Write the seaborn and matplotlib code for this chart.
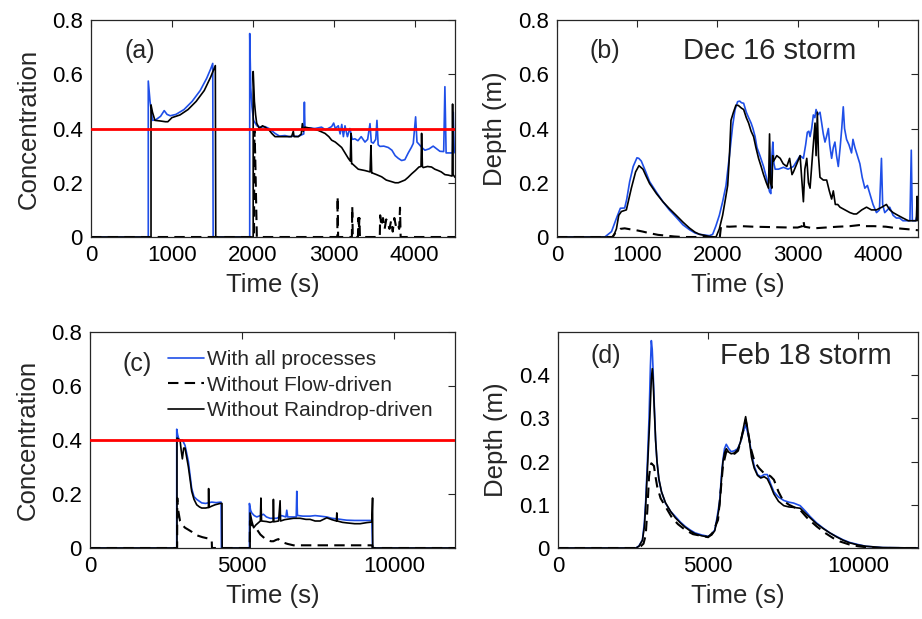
import numpy as np
import pandas as pd
import seaborn as sns
import matplotlib.pyplot as plt

sns.set_style('white')
plt.rcParams['font.family'] = ['Liberation Sans', 'DejaVu Sans']

#panel (a) Dec 16 storm, concentration
a_all_t = [0, 708, 708, 730, 760, 800, 860, 905, 940, 980, 1050, 1150, 1250, 1350, 1430, 1480, 1505, 1510,
           1962, 1962, 1975, 1990, 2010, 2050, 2100, 2151, 2200, 2275, 2330, 2398, 2450, 2500, 2563, 2630,
           2638, 2645, 2700, 2769, 2850, 2900, 2975, 3000, 3020, 3057, 3080, 3100, 3120, 3140, 3170, 3200,
           3230, 3263, 3300, 3340, 3387, 3420, 3449, 3465, 3490, 3520, 3535, 3550, 3572, 3620, 3675, 3720,
           3760, 3799, 3840, 3880, 3922, 3960, 3984, 4013, 4030, 4046, 4090, 4128, 4180, 4230, 4252, 4313,
           4360, 4375, 4390, 4449, 4470, 4478, 4490, 4500]
a_all_c = [0, 0, 0.575, 0.50, 0.43, 0.432, 0.445, 0.466, 0.452, 0.447, 0.452, 0.47, 0.50, 0.54, 0.585, 0.62, 0.64, 0,
           0, 0.75, 0.55, 0.48, 0.43, 0.41, 0.405, 0.407, 0.40, 0.382, 0.372, 0.374, 0.37, 0.372, 0.371, 0.38,
           0.497, 0.40, 0.402, 0.40, 0.405, 0.395, 0.407, 0.42, 0.40, 0.41, 0.38, 0.415, 0.37, 0.41, 0.37, 0.40,
           0.36, 0.362, 0.355, 0.37, 0.35, 0.36, 0.418, 0.35, 0.346, 0.36, 0.43, 0.34, 0.334, 0.335, 0.33, 0.32,
           0.30, 0.29, 0.282, 0.285, 0.31, 0.33, 0.345, 0.443, 0.35, 0.345, 0.33, 0.32, 0.325, 0.335, 0.33, 0.316,
           0.315, 0.554, 0.31, 0.31, 0.31, 0.46, 0.32, 0.31]
a_flow_t = [0, 2015, 2020, 2030, 2040, 2050, 3045, 3049, 3055, 3225, 3230, 3236, 3300, 3305, 3312, 3318, 3325,
            3570, 3575, 3590, 3610, 3630, 3650, 3670, 3690, 3710, 3730, 3750, 3770, 3790, 3810, 3820, 3828, 4500]
a_flow_c = [0, 0, 0.395, 0.30, 0.15, 0, 0, 0.149, 0, 0, 0.112, 0, 0, 0.07, 0.03, 0.07, 0,
            0, 0.08, 0.04, 0.07, 0.03, 0.065, 0.05, 0.03, 0.06, 0.02, 0.07, 0.04, 0.05, 0.03, 0.108, 0, 0]
a_rain_t = [0, 742, 742, 760, 790, 850, 920, 950, 1000, 1100, 1200, 1300, 1400, 1480, 1537, 1542,
            2005, 2005, 2020, 2035, 2048, 2080, 2120, 2151, 2200, 2234, 2275, 2340, 2398, 2480, 2501, 2510,
            2563, 2600, 2613, 2625, 2645, 2728, 2810, 2893, 2940, 2975, 3020, 3060, 3099, 3140, 3181, 3205,
            3214, 3222, 3230, 3304, 3387, 3450, 3461, 3470, 3478, 3530, 3593, 3650, 3717, 3760, 3799, 3840,
            3881, 3920, 3964, 4010, 4054, 4080, 4087, 4097, 4107, 4160, 4210, 4250, 4293, 4330, 4375, 4420,
            4457, 4465, 4470, 4476, 4500]
a_rain_c = [0, 0, 0.487, 0.46, 0.43, 0.428, 0.425, 0.425, 0.44, 0.45, 0.47, 0.50, 0.54, 0.59, 0.632, 0,
            0, 0.61, 0.50, 0.45, 0.42, 0.40, 0.41, 0.405, 0.395, 0.382, 0.37, 0.37, 0.37, 0.37, 0.39, 0.37,
            0.37, 0.38, 0.418, 0.39, 0.405, 0.40, 0.393, 0.382, 0.37, 0.357, 0.35, 0.34, 0.33, 0.31, 0.29, 0.28,
            0.382, 0.27, 0.27, 0.25, 0.245, 0.24, 0.337, 0.236, 0.236, 0.23, 0.222, 0.21, 0.204, 0.2, 0.2, 0.205,
            0.21, 0.22, 0.233, 0.245, 0.258, 0.26, 0.382, 0.26, 0.256, 0.26, 0.258, 0.25, 0.245, 0.24, 0.23, 0.228,
            0.225, 0.225, 0.49, 0.23, 0.22]

#panel (b) Dec 16 storm, depth
b_all_t = [0, 596, 680, 741, 790, 844, 870, 906, 950, 997, 1020, 1051, 1100, 1155, 1240, 1321, 1400, 1486, 1570,
           1652, 1720, 1776, 1900, 1941, 1980, 2024, 2065, 2107, 2150, 2190, 2220, 2252, 2278, 2300, 2327, 2360,
           2389, 2420, 2443, 2470, 2493, 2530, 2575, 2610, 2650, 2666, 2680, 2691, 2705, 2720, 2760, 2824, 2880,
           2948, 2990, 3031, 3072, 3100, 3121, 3140, 3155, 3175, 3196, 3215, 3230, 3250, 3279, 3300, 3320, 3341,
           3360, 3383, 3400, 3424, 3445, 3465, 3485, 3507, 3530, 3550, 3569, 3585, 3610, 3640, 3672, 3690, 3714,
           3745, 3776, 3805, 3838, 3870, 3900, 3940, 3983, 4020, 4045, 4060, 4086, 4120, 4148, 4190, 4231, 4270,
           4313, 4360, 4400, 4417, 4430, 4470, 4490, 4500]
b_all_d = [0, 0, 0.02, 0.069, 0.106, 0.107, 0.14, 0.204, 0.26, 0.292, 0.29, 0.28, 0.245, 0.204, 0.165, 0.13, 0.10,
           0.073, 0.045, 0.027, 0.015, 0.01, 0.005, 0.01, 0.04, 0.08, 0.13, 0.19, 0.30, 0.41, 0.47, 0.499, 0.501,
           0.495, 0.493, 0.46, 0.44, 0.42, 0.40, 0.37, 0.33, 0.30, 0.26, 0.22, 0.167, 0.16, 0.30, 0.35, 0.27, 0.25,
           0.25, 0.257, 0.25, 0.26, 0.28, 0.30, 0.29, 0.34, 0.386, 0.39, 0.37, 0.40, 0.45, 0.44, 0.47, 0.45, 0.46,
           0.42, 0.38, 0.35, 0.37, 0.40, 0.34, 0.29, 0.33, 0.35, 0.30, 0.26, 0.33, 0.40, 0.48, 0.40, 0.36, 0.34,
           0.31, 0.36, 0.33, 0.30, 0.27, 0.22, 0.18, 0.19, 0.16, 0.12, 0.09, 0.10, 0.29, 0.12, 0.09, 0.10, 0.11,
           0.08, 0.07, 0.07, 0.06, 0.06, 0.06, 0.32, 0.06, 0.06, 0.08, 0.07]
b_flow_t = [0, 690, 741, 790, 844, 920, 989, 1070, 1155, 1260, 1362, 1460, 1569, 2030, 2045, 2148, 2300, 2450,
            2600, 2750, 2900, 3000, 3060, 3072, 3085, 3200, 3350, 3500, 3650, 3800, 3850, 3950, 4100, 4250,
            4400, 4500]
b_flow_d = [0, 0, 0.02, 0.03, 0.032, 0.028, 0.025, 0.02, 0.014, 0.008, 0.005, 0.002, 0, 0, 0.04, 0.038, 0.04,
            0.038, 0.037, 0.036, 0.035, 0.035, 0.04, 0.06, 0.038, 0.032, 0.035, 0.038, 0.04, 0.045, 0.04, 0.04,
            0.038, 0.032, 0.028, 0.025]
b_rain_t = [0, 700, 741, 770, 803, 865, 927, 980, 1022, 1072, 1110, 1155, 1240, 1321, 1400, 1486, 1570, 1652,
            1720, 1776, 1900, 1983, 2024, 2065, 2100, 2128, 2150, 2169, 2200, 2231, 2261, 2300, 2327, 2360, 2389,
            2420, 2451, 2480, 2513, 2545, 2575, 2610, 2637, 2650, 2662, 2679, 2690, 2700, 2740, 2783, 2820, 2865,
            2900, 2930, 2948, 2990, 3031, 3050, 3072, 3090, 3114, 3135, 3155, 3185, 3217, 3230, 3246, 3260, 3279,
            3320, 3362, 3395, 3424, 3445, 3470, 3500, 3528, 3590, 3652, 3700, 3735, 3800, 3859, 3920, 3983, 4050,
            4107, 4150, 4190, 4250, 4313, 4380, 4438, 4480, 4490, 4500]
b_rain_d = [0, 0, 0.03, 0.08, 0.094, 0.10, 0.18, 0.24, 0.263, 0.25, 0.225, 0.197, 0.16, 0.13, 0.105, 0.08, 0.055,
            0.033, 0.018, 0.01, 0.002, 0, 0.03, 0.08, 0.14, 0.19, 0.30, 0.43, 0.46, 0.486, 0.485, 0.475, 0.47,
            0.44, 0.42, 0.39, 0.37, 0.33, 0.29, 0.26, 0.23, 0.20, 0.18, 0.38, 0.20, 0.18, 0.30, 0.28, 0.30, 0.29,
            0.27, 0.26, 0.29, 0.23, 0.24, 0.27, 0.30, 0.22, 0.13, 0.25, 0.29, 0.20, 0.18, 0.30, 0.42, 0.30, 0.46,
            0.30, 0.22, 0.21, 0.21, 0.17, 0.14, 0.17, 0.12, 0.12, 0.11, 0.10, 0.09, 0.085, 0.085, 0.10, 0.11, 0.10,
            0.10, 0.11, 0.12, 0.10, 0.09, 0.08, 0.07, 0.06, 0.06, 0.06, 0.15, 0.06]

#panel (c) Feb 18 storm, concentration
c_all_t = [0, 2851, 2851, 2880, 2928, 3037, 3125, 3235, 3344, 3420, 3509, 3673, 3800, 4002, 4150, 4309, 4320,
           5241, 5241, 5280, 5318, 5400, 5482, 5600, 5702, 5800, 5921, 6030, 6140, 6300, 6440, 6469, 6500, 6689,
           6780, 6798, 6820, 6853, 7000, 7237, 7400, 7566, 7785, 7950, 8114, 8300, 8443, 8700, 8882, 9100, 9265,
           9290, 12000]
c_all_c = [0, 0, 0.44, 0.42, 0.40, 0.40, 0.38, 0.32, 0.22, 0.19, 0.18, 0.167, 0.165, 0.17, 0.168, 0.17, 0,
           0, 0.165, 0.14, 0.13, 0.12, 0.115, 0.12, 0.125, 0.115, 0.11, 0.11, 0.11, 0.12, 0.115, 0.14, 0.115, 0.115,
           0.115, 0.21, 0.12, 0.12, 0.118, 0.118, 0.12, 0.118, 0.115, 0.11, 0.108, 0.105, 0.103, 0.102, 0.102,
           0.102, 0.102, 0, 0]
c_flow_t = [0, 2865, 2870, 2900, 2960, 3040, 3125, 3230, 3344, 3450, 3564, 3700, 3893, 4002, 4010, 5250, 5260,
            5320, 5480, 5600, 5700, 5812, 5950, 6030, 6120, 6195, 6260, 6360, 6500, 6689, 8000, 9280, 9290, 12000]
c_flow_c = [0, 0, 0.185, 0.14, 0.10, 0.085, 0.075, 0.068, 0.06, 0.05, 0.045, 0.04, 0.035, 0.03, 0, 0, 0.10,
            0.085, 0.07, 0.05, 0.04, 0.03, 0.025, 0.025, 0.03, 0.033, 0.025, 0.02, 0.015, 0.01, 0.01, 0.01, 0, 0]
c_rain_t = [0, 2860, 2860, 2960, 3000, 3037, 3080, 3125, 3235, 3344, 3420, 3509, 3600, 3673, 3800, 3893, 3900,
            3910, 4000, 4112, 4276, 4340, 4345, 5263, 5263, 5320, 5380, 5450, 5500, 5600, 5619, 5640, 5800, 5921,
            6020, 6030, 6045, 6200, 6250, 6265, 6400, 6689, 6908, 7100, 7237, 7400, 7566, 7785, 7950, 8100, 8114,
            8130, 8300, 8443, 8700, 8882, 9100, 9265, 9290, 9295, 12000]
c_rain_c = [0, 0, 0.407, 0.40, 0.36, 0.33, 0.37, 0.37, 0.30, 0.21, 0.18, 0.16, 0.152, 0.148, 0.148, 0.15, 0.22,
            0.15, 0.155, 0.16, 0.165, 0.165, 0, 0, 0.13, 0.10, 0.075, 0.085, 0.09, 0.10, 0.185, 0.10, 0.098, 0.095,
            0.098, 0.18, 0.097, 0.10, 0.175, 0.10, 0.105, 0.11, 0.11, 0.106, 0.106, 0.10, 0.10, 0.112, 0.105, 0.10,
            0.13, 0.10, 0.095, 0.093, 0.09, 0.09, 0.094, 0.096, 0.185, 0, 0]

#panel (d) Feb 18 storm, depth
d_all_t = [0, 2596, 2700, 2815, 2880, 2924, 2980, 3034, 3080, 3111, 3140, 3165, 3210, 3253, 3300, 3362, 3450, 3581,
           3750, 3910, 4080, 4239, 4400, 4567, 4800, 5005, 5120, 5225, 5300, 5389, 5450, 5498, 5550, 5608, 5690,
           5772, 5880, 5991, 6080, 6156, 6254, 6310, 6375, 6450, 6539, 6650, 6758, 6870, 6977, 7080, 7196, 7350,
           7525, 7700, 7853, 8072, 8250, 8401, 8620, 8839, 9060, 9277, 9500, 9715, 10000, 10263, 10810, 12000]
d_all_d = [0, 0, 0.005, 0.019, 0.06, 0.11, 0.20, 0.30, 0.42, 0.48, 0.46, 0.42, 0.33, 0.25, 0.20, 0.158, 0.13, 0.104,
           0.085, 0.073, 0.06, 0.05, 0.042, 0.035, 0.03, 0.027, 0.032, 0.042, 0.07, 0.11, 0.17, 0.204, 0.23, 0.24,
           0.23, 0.223, 0.225, 0.23, 0.245, 0.265, 0.285, 0.27, 0.25, 0.22, 0.19, 0.17, 0.165, 0.17, 0.17, 0.15,
           0.13, 0.118, 0.11, 0.106, 0.104, 0.098, 0.085, 0.073, 0.058, 0.046, 0.035, 0.027, 0.019, 0.013, 0.008,
           0.004, 0.001, 0]
d_flow_t = [0, 2700, 2850, 2924, 2980, 3034, 3080, 3111, 3198, 3250, 3307, 3420, 3581, 3800, 4000, 4239, 4500,
            5005, 5150, 5334, 5420, 5498, 5608, 5750, 5882, 6000, 6100, 6254, 6330, 6429, 6550, 6700, 6868, 7000,
            7100, 7196, 7350, 7500, 7700, 7850, 8072, 8300, 8620, 8900, 9168, 9400, 9715, 10000, 10500, 12000]
d_flow_d = [0, 0, 0.01, 0.03, 0.09, 0.165, 0.19, 0.196, 0.19, 0.165, 0.142, 0.115, 0.096, 0.07, 0.055, 0.042,
            0.032, 0.025, 0.035, 0.065, 0.13, 0.19, 0.223, 0.22, 0.218, 0.225, 0.25, 0.296, 0.27, 0.23, 0.20,
            0.185, 0.173, 0.17, 0.165, 0.158, 0.13, 0.11, 0.10, 0.095, 0.088, 0.07, 0.05, 0.035, 0.023, 0.015,
            0.008, 0.004, 0, 0]
d_rain_t = [0, 2600, 2700, 2815, 2880, 2924, 2980, 3060, 3110, 3143, 3170, 3210, 3253, 3300, 3362, 3450, 3581,
            3750, 3910, 4080, 4239, 4400, 4567, 4800, 5005, 5120, 5225, 5300, 5389, 5450, 5498, 5550, 5608, 5690,
            5772, 5880, 5991, 6080, 6156, 6254, 6310, 6375, 6450, 6539, 6650, 6758, 6870, 6977, 7080, 7196, 7350,
            7525, 7700, 7853, 8072, 8250, 8401, 8620, 8839, 9060, 9277, 9500, 9715, 10000, 10263, 10810, 12000]
d_rain_d = [0, 0, 0.004, 0.018, 0.05, 0.10, 0.18, 0.30, 0.39, 0.415, 0.39, 0.32, 0.25, 0.20, 0.16, 0.13, 0.105,
            0.085, 0.07, 0.058, 0.048, 0.04, 0.033, 0.028, 0.026, 0.03, 0.04, 0.065, 0.10, 0.16, 0.20, 0.22, 0.23,
            0.222, 0.218, 0.22, 0.228, 0.245, 0.27, 0.304, 0.28, 0.25, 0.21, 0.185, 0.168, 0.162, 0.165, 0.16,
            0.145, 0.125, 0.108, 0.098, 0.095, 0.094, 0.092, 0.08, 0.07, 0.056, 0.045, 0.035, 0.026, 0.018, 0.012,
            0.007, 0.004, 0.001, 0]

threshold = 0.4
labels = ['With all processes', 'Without Flow-driven', 'Without Raindrop-driven']
blue = '#1f4fe8'

fig = plt.figure(figsize=(9.22, 6.19), dpi=100)
ax_a = fig.add_axes([0.0987, 0.6171, 0.3948, 0.3506])
ax_b = fig.add_axes([0.6041, 0.6171, 0.3915, 0.3506])
ax_c = fig.add_axes([0.0976, 0.1147, 0.3959, 0.3490])
ax_d = fig.add_axes([0.6052, 0.1147, 0.3905, 0.3490])


def draw(ax, t1, v1, t2, v2, t3, v3, legend=False):
    lab = labels if legend else [None, None, None]
    sns.lineplot(x=t1, y=v1, ax=ax, color=blue, lw=1.2, estimator=None, sort=False, label=lab[0])
    sns.lineplot(x=t2, y=v2, ax=ax, color='black', lw=1.5, linestyle=(0, (5, 3)),
                 estimator=None, sort=False, label=lab[1])
    sns.lineplot(x=t3, y=v3, ax=ax, color='black', lw=1.2, estimator=None, sort=False, label=lab[2])


draw(ax_a, a_all_t, a_all_c, a_flow_t, a_flow_c, a_rain_t, a_rain_c)
draw(ax_b, b_all_t, b_all_d, b_flow_t, b_flow_d, b_rain_t, b_rain_d)
draw(ax_c, c_all_t, c_all_c, c_flow_t, c_flow_c, c_rain_t, c_rain_c, legend=True)
draw(ax_d, d_all_t, d_all_d, d_flow_t, d_flow_d, d_rain_t, d_rain_d)

for ax in [ax_a, ax_c]:
    ax.axhline(threshold, color='red', lw=2, zorder=5)

#limits and ticks
ax_a.set_xlim(0, 4500)
ax_b.set_xlim(0, 4500)
ax_c.set_xlim(0, 12000)
ax_d.set_xlim(0, 12000)
for ax in [ax_a, ax_b, ax_c]:
    ax.set_ylim(0, 0.8)
    ax.set_yticks([0, 0.2, 0.4, 0.6, 0.8])
    ax.set_yticklabels(['0', '0.2', '0.4', '0.6', '0.8'])
ax_d.set_ylim(0, 0.5)
ax_d.set_yticks([0, 0.1, 0.2, 0.3, 0.4])
ax_d.set_yticklabels(['0', '0.1', '0.2', '0.3', '0.4'])
for ax in [ax_a, ax_b]:
    ax.set_xticks([0, 1000, 2000, 3000, 4000])
for ax in [ax_c, ax_d]:
    ax.set_xticks([0, 5000, 10000])

for ax in [ax_a, ax_b, ax_c, ax_d]:
    ax.tick_params(axis='both', direction='in', top=True, right=True, length=5, width=0.8,
                   labelsize=16, color='#262626', labelcolor='black')
    ax.tick_params(axis='x', pad=6)
    ax.tick_params(axis='y', pad=6)
    for s in ax.spines.values():
        s.set_color('#262626')
        s.set_linewidth(0.9)
    ax.set_xlabel('Time (s)', fontsize=18.5, labelpad=5)

ax_a.set_ylabel('Concentration', fontsize=18.5, labelpad=8)
ax_c.set_ylabel('Concentration', fontsize=18.5, labelpad=8)
ax_b.set_ylabel('Depth (m)', fontsize=18.5, labelpad=8)
ax_d.set_ylabel('Depth (m)', fontsize=18.5, labelpad=8)

#panel letters and storm names
ax_a.text(0.093, 0.855, '(a)', transform=ax_a.transAxes, fontsize=18, va='center')
ax_b.text(0.091, 0.855, '(b)', transform=ax_b.transAxes, fontsize=18, va='center')
ax_b.text(0.349, 0.855, 'Dec 16 storm', transform=ax_b.transAxes, fontsize=21, va='center')
ax_c.text(0.09, 0.85, '(c)', transform=ax_c.transAxes, fontsize=18, va='center')
ax_d.text(0.089, 0.89, '(d)', transform=ax_d.transAxes, fontsize=18, va='center')
ax_d.text(0.45, 0.89, 'Feb 18 storm', transform=ax_d.transAxes, fontsize=21, va='center')

ax_c.legend(loc='upper left', bbox_to_anchor=(0.215, 0.915), frameon=False, fontsize=15,
            handlelength=1.7, handletextpad=0.15, labelspacing=0.3, borderpad=0, borderaxespad=0)

fig.savefig('out.png', dpi=100)
